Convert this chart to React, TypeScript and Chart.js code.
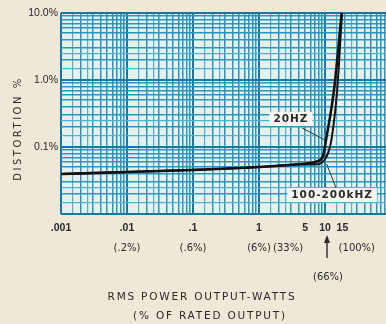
import { useEffect, useRef } from "react";
import { Chart, registerables } from "chart.js";

Chart.register(...registerables);

// ---- data (power in watts, distortion in %) ----
const power20Hz = [0.001, 0.01, 0.1, 1, 4.18, 7.83, 9.33, 10.35, 13.7, 17.9];
const dist20Hz = [0.0395, 0.0424, 0.0454, 0.0502, 0.0557, 0.0618, 0.0734, 0.127, 0.71, 10];
const powerKHz = [0.001, 0.01, 0.1, 1, 4.18, 7.83, 9.8, 11.3, 12.5, 15.3, 18.1];
const distKHz = [0.0395, 0.0424, 0.0454, 0.0502, 0.055, 0.0555, 0.064, 0.0845, 0.127, 0.71, 10];

const xTickValues = [0.001, 0.01, 0.1, 1, 5, 10, 15];
const xTickLabels = [".001", ".01", ".1", "1", "5", "10", "15"];
const xTickAlign: CanvasTextAlign[] = ["center", "center", "center", "center", "center", "center", "left"];
const ratedValues = [0.01, 0.1, 1, 5, 15];
const ratedLabels = ["(.2%)", "(.6%)", "(6%)", "(33%)", "(100%)"];
const ratedAlign: CanvasTextAlign[] = ["center", "center", "center", "right", "left"];
const arrowValue = 10;
const arrowLabel = "(66%)";

const yTickValues = [0.1, 1, 10];
const yTickLabels = ["0.1%", "1.0%", "10.0%"];

const xMin = 0.001;
const xMax = 84;
const yMin = 0.01;
const yMax = 10;

const gridMultipliers = [1, 1.5, 2, 2.5, 3, 4, 5, 6, 7, 8, 9];

function logGrid(min: number, max: number): number[] {
  const out: number[] = [];
  for (let e = Math.floor(Math.log10(min)); e <= Math.ceil(Math.log10(max)); e++) {
    for (const m of gridMultipliers) {
      const v = m * Math.pow(10, e);
      if (v >= min * 0.9999 && v <= max * 1.0001) out.push(v);
    }
  }
  return out;
}

const near = (a: number, b: number) => Math.abs(Math.log10(a) - Math.log10(b)) < 1e-6;
const isDecade = (v: number) => Math.abs(Math.log10(v) - Math.round(Math.log10(v))) < 1e-6;
const isInteger = (v: number) => {
  const e = Math.floor(Math.log10(v) + 1e-9);
  const m = v / Math.pow(10, e);
  return Math.abs(m - Math.round(m)) < 1e-6;
};

const TEXT = "#2a2a2a";
const FONT = "'DejaVu Sans', sans-serif";

const bgPlugin = {
  id: "paperBg",
  beforeDraw(chart: any) {
    const { ctx, chartArea: a } = chart;
    ctx.save();
    ctx.fillStyle = "#e6f1ee";
    ctx.fillRect(a.left, a.top, a.right - a.left, a.bottom - a.top);
    ctx.restore();
  },
};

const annotPlugin = {
  id: "annot",
  afterDraw(chart: any) {
    const { ctx, chartArea: a } = chart;
    const xs = chart.scales.x;
    const ys = chart.scales.y;
    const px = (v: number) => xs.getPixelForValue(v);
    const py = (v: number) => ys.getPixelForValue(v);
    ctx.save();
    ctx.fillStyle = TEXT;
    ctx.strokeStyle = TEXT;
    ctx.textBaseline = "middle";

    // x tick labels (watts)
    ctx.font = `bold 10.5px 'Liberation Sans', sans-serif`;
    xTickValues.forEach((v, i) => {
      const al = xTickAlign[i];
      ctx.textAlign = al;
      const dx = al === "left" ? 0 : 0;
      ctx.fillText(xTickLabels[i], px(v) + dx, a.bottom + 14);
    });

    // rated-output percentages
    ctx.font = `10px ${FONT}`;
    ratedValues.forEach((v, i) => {
      const al = ratedAlign[i];
      ctx.textAlign = al;
      const dx = al === "right" ? -2 : al === "left" ? 2 : 0;
      ctx.fillText(ratedLabels[i], px(v) + dx, a.bottom + 34);
    });

    // arrow to 10 W
    const ax = px(arrowValue) + 2;
    ctx.lineWidth = 1.4;
    ctx.beginPath();
    ctx.moveTo(ax, a.bottom + 44);
    ctx.lineTo(ax, a.bottom + 23);
    ctx.stroke();
    ctx.beginPath();
    ctx.moveTo(ax, a.bottom + 21);
    ctx.lineTo(ax - 3, a.bottom + 29);
    ctx.lineTo(ax + 3, a.bottom + 29);
    ctx.closePath();
    ctx.fill();
    ctx.textAlign = "center";
    ctx.fillText(arrowLabel, ax + 1, a.bottom + 63);

    // y title
    ctx.save();
    ctx.translate(18, (a.top + a.bottom) / 2 + 15);
    ctx.rotate(-Math.PI / 2);
    ctx.font = `10px ${FONT}`;
    (ctx as any).letterSpacing = "2.5px";
    ctx.textAlign = "center";
    ctx.fillText("DISTORTION %", 0, 0);
    ctx.restore();

    // x title
    ctx.font = `10.5px ${FONT}`;
    (ctx as any).letterSpacing = "1.8px";
    ctx.textAlign = "center";
    ctx.fillText("RMS POWER OUTPUT-WATTS", 202, 297);
    ctx.fillText("(% OF RATED OUTPUT)", 210, 316);
    (ctx as any).letterSpacing = "0px";

    // curve labels
    const label = (text: string, lx: number, ly: number, sx: number, sy: number, ex: number, ey: number, spacing: string) => {
      ctx.strokeStyle = "#333";
      ctx.lineWidth = 1;
      ctx.beginPath();
      ctx.moveTo(px(sx), py(sy));
      ctx.lineTo(px(ex), py(ey));
      ctx.stroke();
      ctx.font = `bold 10.5px ${FONT}`;
      (ctx as any).letterSpacing = spacing;
      const w = ctx.measureText(text).width;
      const cx = px(lx);
      const cy = py(ly);
      ctx.fillStyle = "#f6f8f3";
      ctx.fillRect(cx - w / 2 - 4, cy - 7, w + 8, 14);
      ctx.fillStyle = TEXT;
      ctx.textAlign = "center";
      ctx.fillText(text, cx, cy + 0.5);
      (ctx as any).letterSpacing = "0px";
    };
    label("20HZ", 3.05, 0.262, 4.49, 0.192, 10.0, 0.127, "1px");
    label("100-200kHZ", 12.8, 0.0192, 14.7, 0.0244, 10.6, 0.0557, "1px");

    ctx.restore();
  },
};

function gridColor(ctx: any) {
  const v = ctx.tick?.value;
  if (!v) return "#3aa6c9";
  if (isDecade(v)) return "#17779f";
  if (isInteger(v)) return "#2a95be";
  return "#4fb2d3";
}
function gridWidth(ctx: any) {
  const v = ctx.tick?.value;
  if (!v) return 1;
  if (isDecade(v)) return 2;
  if (isInteger(v)) return 1.5;
  return 1.2;
}

export default function App() {
  const ref = useRef<HTMLCanvasElement | null>(null);

  useEffect(() => {
    if (!ref.current) return;
    const chart = new Chart(ref.current, {
      type: "line",
      data: {
        datasets: [
          {
            label: "100-200kHz",
            data: powerKHz.map((x, i) => ({ x, y: distKHz[i] })),
            borderColor: "#111",
            borderWidth: 2,
            pointRadius: 0,
            cubicInterpolationMode: "monotone",
            fill: false,
          },
          {
            label: "20Hz",
            data: power20Hz.map((x, i) => ({ x, y: dist20Hz[i] })),
            borderColor: "#111",
            borderWidth: 2.6,
            pointRadius: 0,
            cubicInterpolationMode: "monotone",
            fill: false,
          },
        ],
      },
      options: {
        animation: false,
        responsive: true,
        maintainAspectRatio: false,
        layout: { padding: { top: 13, right: 0, left: 0, bottom: 0 } },
        plugins: { legend: { display: false }, tooltip: { enabled: false }, title: { display: false } },
        scales: {
          x: {
            type: "logarithmic",
            min: xMin,
            max: xMax,
            afterBuildTicks: (s: any) => {
              s.ticks = logGrid(xMin, xMax).map((value) => ({ value }));
            },
            afterFit: (s: any) => {
              s.height = 110;
              s.paddingLeft = 0;
              s.paddingRight = 0;
            },
            ticks: { display: false, autoSkip: false },
            grid: { drawTicks: false, color: gridColor, lineWidth: gridWidth },
            border: { display: false },
          },
          y: {
            type: "logarithmic",
            min: yMin,
            max: yMax,
            afterBuildTicks: (s: any) => {
              s.ticks = logGrid(yMin, yMax).map((value) => ({ value }));
            },
            afterFit: (s: any) => {
              s.width = 61;
              s.paddingTop = 0;
              s.paddingBottom = 0;
            },
            ticks: {
              autoSkip: false,
              padding: 3,
              color: TEXT,
              font: { family: "'Liberation Sans', sans-serif", size: 10.5 },
              callback: (v: any) => {
                const i = yTickValues.findIndex((t) => near(t, Number(v)));
                return i >= 0 ? yTickLabels[i] : "";
              },
            },
            grid: { drawTicks: false, color: gridColor, lineWidth: gridWidth },
            border: { display: false },
          },
        },
      } as any,
      plugins: [bgPlugin, annotPlugin],
    });
    return () => chart.destroy();
  }, []);

  return (
    <div
      style={{
        position: "fixed",
        left: 0,
        top: 0,
        width: 386,
        height: 324,
        background: "#efe7d8",
      }}
    >
      <canvas ref={ref} />
    </div>
  );
}
